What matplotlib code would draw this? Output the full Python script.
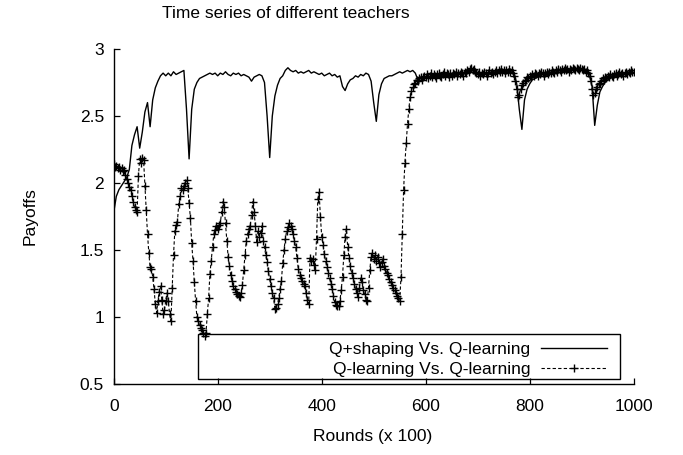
import numpy as np
import matplotlib
matplotlib.use("Agg")
import matplotlib.pyplot as plt
from matplotlib.patches import Rectangle

plt.rcParams['font.family'] = ['Liberation Sans', 'DejaVu Sans']

title = "Time series of different teachers"
xlabel = "Rounds (x 100)"
ylabel = "Payoffs"
label_shaping = "Q+shaping Vs. Q-learning"
label_q = "Q-learning Vs. Q-learning"
xticks = [0, 200, 400, 600, 800, 1000]
yticks = [0.5, 1, 1.5, 2, 2.5, 3]
ytick_labels = ["0.5", "1", "1.5", "2", "2.5", "3"]

# Q+shaping Vs. Q-learning: one value every 5 rounds (0..1000)
shaping_rounds = np.arange(0, 1001, 5)
shaping_values = [
    1.78, 1.90, 1.95, 1.98, 2.01, 2.04, 2.10, 2.28, 2.36, 2.42,
    2.26, 2.38, 2.53, 2.60, 2.42, 2.62, 2.71, 2.76, 2.80, 2.82,
    2.80, 2.82, 2.80, 2.83, 2.81, 2.82, 2.83, 2.84, 2.55, 2.18,
    2.55, 2.70, 2.75, 2.78, 2.79, 2.80, 2.81, 2.82, 2.81, 2.82,
    2.80, 2.82, 2.81, 2.83, 2.81, 2.80, 2.82, 2.81, 2.82, 2.80,
    2.81, 2.80, 2.79, 2.76, 2.79, 2.80, 2.81, 2.80, 2.75, 2.50,
    2.19, 2.50, 2.65, 2.73, 2.78, 2.80, 2.84, 2.86, 2.84, 2.83,
    2.84, 2.82, 2.83, 2.82, 2.83, 2.84, 2.82, 2.83, 2.82, 2.81,
    2.82, 2.80, 2.81, 2.82, 2.80, 2.81, 2.79, 2.80, 2.72, 2.69,
    2.74, 2.77, 2.78, 2.80, 2.79, 2.81, 2.80, 2.82, 2.81, 2.76,
    2.60, 2.46, 2.66, 2.74, 2.78, 2.79, 2.80, 2.80, 2.81, 2.82,
    2.83, 2.82, 2.83, 2.84, 2.83, 2.84, 2.82, 2.77, 2.78, 2.79,
    2.79, 2.80, 2.79, 2.80, 2.81, 2.80, 2.79, 2.81, 2.80, 2.81,
    2.79, 2.80, 2.81, 2.82, 2.81, 2.83, 2.84, 2.85, 2.84, 2.82,
    2.81, 2.80, 2.81, 2.82, 2.81, 2.82, 2.83, 2.82, 2.83, 2.84,
    2.83, 2.84, 2.83, 2.84, 2.82, 2.74, 2.55, 2.40, 2.62, 2.70,
    2.74, 2.77, 2.78, 2.79, 2.80, 2.81, 2.80, 2.81, 2.82, 2.81,
    2.82, 2.83, 2.82, 2.83, 2.84, 2.83, 2.84, 2.85, 2.84, 2.85,
    2.84, 2.83, 2.84, 2.82, 2.72, 2.43, 2.58, 2.68, 2.72, 2.75,
    2.77, 2.78, 2.79, 2.80, 2.81, 2.80, 2.81, 2.82, 2.81, 2.82,
    2.82,
]

# Q-learning Vs. Q-learning: one value every 2.5 rounds (0..1000)
q_rounds = np.linspace(0, 1000, 401)
q_values = [
    2.14, 2.12, 2.13, 2.11, 2.12, 2.10, 2.11, 2.09, 2.10, 2.06, 2.03, 2.00, 1.97, 1.95, 1.90, 1.86, 1.82, 1.80, 1.78, 2.05,
    2.18, 2.15, 2.19, 2.17, 1.98, 1.80, 1.62, 1.48, 1.37, 1.36, 1.30, 1.21, 1.10, 1.03, 1.12, 1.19, 1.23, 1.13, 1.02, 1.05,
    1.12, 1.18, 1.12, 1.02, 0.97, 1.22, 1.46, 1.64, 1.69, 1.71, 1.84, 1.90, 1.96, 1.95, 1.98, 2.00, 2.02, 1.96, 1.85, 1.74,
    1.55, 1.42, 1.26, 1.12, 1.00, 0.97, 0.94, 0.92, 0.90, 0.88, 0.86, 0.88, 1.02, 1.14, 1.32, 1.42, 1.52, 1.62, 1.65, 1.68,
    1.66, 1.69, 1.70, 1.78, 1.86, 1.82, 1.70, 1.57, 1.45, 1.38, 1.31, 1.27, 1.23, 1.21, 1.19, 1.17, 1.16, 1.15, 1.18, 1.24,
    1.35, 1.46, 1.57, 1.62, 1.66, 1.68, 1.76, 1.86, 1.78, 1.68, 1.56, 1.64, 1.60, 1.63, 1.68, 1.57, 1.52, 1.46, 1.41, 1.34,
    1.28, 1.23, 1.18, 1.14, 1.06, 1.07, 1.10, 1.14, 1.21, 1.27, 1.40, 1.50, 1.58, 1.64, 1.67, 1.70, 1.68, 1.66, 1.62, 1.57,
    1.52, 1.44, 1.36, 1.31, 1.29, 1.27, 1.25, 1.23, 1.18, 1.13, 1.10, 1.44, 1.42, 1.43, 1.39, 1.35, 1.58, 1.88, 1.93, 1.75,
    1.60, 1.54, 1.47, 1.42, 1.37, 1.33, 1.29, 1.25, 1.21, 1.16, 1.11, 1.09, 1.08, 1.08, 1.12, 1.20, 1.30, 1.46, 1.60, 1.66,
    1.52, 1.44, 1.38, 1.33, 1.29, 1.25, 1.21, 1.18, 1.15, 1.22, 1.29, 1.26, 1.20, 1.17, 1.13, 1.12, 1.22, 1.35, 1.45, 1.48,
    1.43, 1.46, 1.42, 1.45, 1.40, 1.37, 1.41, 1.43, 1.38, 1.36, 1.33, 1.31, 1.28, 1.26, 1.24, 1.22, 1.20, 1.18, 1.16, 1.14,
    1.12, 1.30, 1.62, 1.95, 2.15, 2.30, 2.44, 2.55, 2.64, 2.69, 2.72, 2.74, 2.75, 2.77, 2.76, 2.78, 2.79, 2.77, 2.79, 2.80,
    2.79, 2.81, 2.78, 2.80, 2.82, 2.79, 2.81, 2.80, 2.78, 2.81, 2.82, 2.80, 2.79, 2.81, 2.83, 2.80, 2.82, 2.81, 2.79, 2.82,
    2.80, 2.82, 2.81, 2.83, 2.80, 2.82, 2.81, 2.83, 2.82, 2.80, 2.83, 2.82, 2.84, 2.83, 2.85, 2.86, 2.84, 2.85, 2.83, 2.82,
    2.81, 2.83, 2.80, 2.82, 2.81, 2.83, 2.82, 2.80, 2.82, 2.84, 2.82, 2.83, 2.81, 2.83, 2.84, 2.82, 2.84, 2.83, 2.85, 2.83,
    2.84, 2.82, 2.84, 2.83, 2.85, 2.83, 2.84, 2.82, 2.80, 2.76, 2.70, 2.64, 2.66, 2.70, 2.73, 2.75, 2.76, 2.77, 2.79, 2.78,
    2.80, 2.79, 2.81, 2.80, 2.82, 2.81, 2.80, 2.82, 2.81, 2.83, 2.82, 2.80, 2.82, 2.83, 2.81, 2.83, 2.82, 2.84, 2.83, 2.82,
    2.84, 2.83, 2.85, 2.84, 2.83, 2.85, 2.84, 2.86, 2.84, 2.85, 2.83, 2.85, 2.84, 2.86, 2.85, 2.84, 2.86, 2.85, 2.84, 2.86,
    2.85, 2.84, 2.85, 2.83, 2.84, 2.82, 2.80, 2.76, 2.70, 2.66, 2.67, 2.70, 2.72, 2.74, 2.75, 2.76, 2.78, 2.77, 2.79, 2.78,
    2.80, 2.79, 2.81, 2.80, 2.79, 2.81, 2.82, 2.80, 2.81, 2.83, 2.81, 2.82, 2.80, 2.82, 2.83, 2.81, 2.83, 2.82, 2.84, 2.83,
    2.83,
]

W, H = 683, 455
fig = plt.figure(figsize=(W / 100, H / 100), dpi=100)
ax_left, ax_right, ax_top, ax_bottom = 113.7, 633.7, 49.0, 384.0
ax = fig.add_axes([ax_left / W, 1 - ax_bottom / H, (ax_right - ax_left) / W, (ax_bottom - ax_top) / H])

ax.plot(shaping_rounds, shaping_values, color='black', lw=1.0, label=label_shaping, zorder=3)
ax.plot(q_rounds, q_values, color='black', lw=0.8, linestyle=(0, (3, 2)),
        marker='+', markersize=5.5, markeredgewidth=1.0, label=label_q, zorder=4)

ax.set_xlim(0, 1000)
ax.set_ylim(0.5, 3)
ax.set_xticks(xticks)
ax.set_yticks(yticks)
ax.set_yticklabels(ytick_labels)
ax.spines['top'].set_visible(False)
ax.spines['right'].set_visible(False)
for s in ('left', 'bottom'):
    ax.spines[s].set_linewidth(1.0)
ax.tick_params(axis='both', direction='in', length=4, width=0.9, labelsize=12.5)
ax.tick_params(axis='x', pad=11)
ax.tick_params(axis='y', pad=7)

# legend frame
lx0, lx1, ly0, ly1 = 197.5, 620.0, 334.0, 379.3
rect = Rectangle(((lx0 - ax_left) / (ax_right - ax_left), (ax_bottom - ly1) / (ax_bottom - ax_top)),
                 (lx1 - lx0) / (ax_right - ax_left), (ly1 - ly0) / (ax_bottom - ax_top),
                 transform=ax.transAxes, fill=False, edgecolor='black', lw=1.0, zorder=2, clip_on=False)
ax.add_patch(rect)
leg = ax.legend(loc='center right',
                bbox_to_anchor=((606.7 - ax_left) / (ax_right - ax_left), (ax_bottom - 359.2) / (ax_bottom - ax_top)),
                frameon=False, markerfirst=False, numpoints=1, fontsize=12.5,
                handlelength=3.8, handletextpad=0.6, labelspacing=0.3, borderpad=0, borderaxespad=0)
for t in leg.get_texts():
    t.set_ha('right')

fig.text(285.5 / W, 1 - 13 / H, title, ha='center', va='center', fontsize=12.5)
fig.text(373 / W, 1 - 437 / H, xlabel, ha='center', va='center', fontsize=12.5)
fig.text(30 / W, 1 - 216 / H, ylabel, ha='center', va='center', rotation=90, fontsize=12.5)

fig.savefig("out.png", dpi=100)
